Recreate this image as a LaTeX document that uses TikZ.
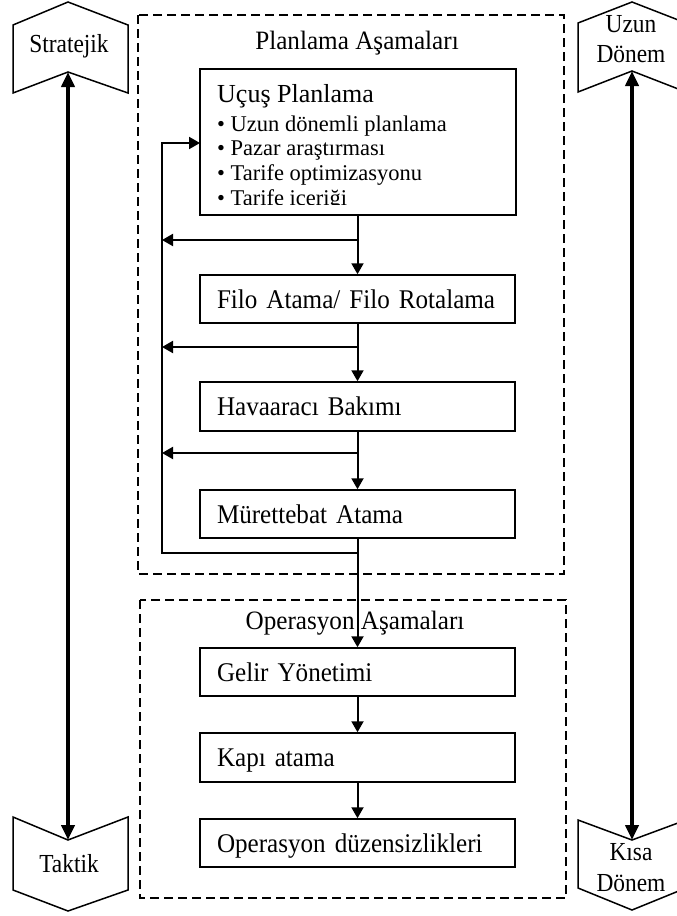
\documentclass[tikz,border=0pt]{standalone}
\usepackage{fontspec}
\setmainfont{Liberation Serif}
\newfontfamily\fboxtext{Liberation Serif}[FakeStretch=0.93]
\newfontfamily\fpen{Liberation Serif}[FakeStretch=0.9]
\newfontfamily\fttl{Liberation Serif}[FakeStretch=0.95]
\usetikzlibrary{arrows.meta}
\begin{document}
\begin{tikzpicture}[x=1pt,y=-1pt,
  box/.style={draw,line width=1.5pt,minimum width=315pt,text width=281pt,inner xsep=17pt,inner ysep=0pt,
    align=left,font=\fboxtext\fontsize{27}{30}\selectfont,text height=19.5pt,text depth=1.5pt},
  arr/.style={line width=2pt,-{Triangle[length=11pt,width=12pt]}},
  bigarr/.style={line width=4pt,{Triangle[length=15pt,width=13pt]}-{Triangle[length=15pt,width=13pt]}},
  dashbox/.style={line width=1.5pt,dash pattern=on 9pt off 5pt},
  penta/.style={line width=1.5pt,line join=miter},
  ptext/.style={font=\fpen\fontsize{26}{28}\selectfont,anchor=base,inner sep=0pt},
  ttl/.style={font=\fttl\fontsize{26.5}{30}\selectfont,anchor=base,inner sep=0pt},
  blt/.style={font=\fontsize{22.5}{24}\selectfont,anchor=base west,inner sep=0pt}]
\useasboundingbox (0,0) rectangle (677,916);

% dashed groups
\draw[dashbox] (138,15) rectangle (564,574);
\draw[dashbox] (140,600) rectangle (566,898);
\node[ttl] (plan) at (357,49) {Planlama Aşamaları};
\node[ttl] (oper) at (355,629) {Operasyon Aşamaları};

% Uçuş Planlama box
\node[draw,line width=1.5pt,minimum width=316pt,minimum height=146pt,inner sep=0pt] (ucus) at (358,142) {};
\node[ttl,anchor=base west,font=\fontsize{26}{30}\selectfont] (ucust) at (217,102) {Uçuş Planlama};
\begin{scope}
\clip (200,69) rectangle (515,204.5);
\node[blt] (b1) at (217,131) {• Uzun dönemli planlama};
\node[blt] (b2) at (217,155) {• Pazar araştırması};
\node[blt] (b3) at (217,180) {• Tarife optimizasyonu};
\node[blt] (b4) at (217,205.5) {• Tarife içeriği};
\end{scope}

% other boxes
\node[box,minimum height=48pt] (filo) at (357.5,299) {Filo Atama/ Filo Rotalama};
\node[box,minimum height=49pt] (hava) at (357.5,406.5) {Havaaracı Bakımı};
\node[box,minimum height=48pt] (muret) at (357.5,514) {Mürettebat Atama};
\node[box,minimum height=48pt] (gelir) at (357.5,672) {Gelir Yönetimi};
\node[box,minimum height=49pt] (kapi) at (357.5,757.5) {Kapı atama};
\node[box,minimum height=48pt] (opdz) at (357.5,843) {Operasyon düzensizlikleri};

% main flow
\draw[arr] (filo.north |- ucus.south) -- (filo.north);
\draw[arr] (filo.south) -- (hava.north);
\draw[arr] (hava.south) -- (muret.north);
\draw[arr] (muret.south) -- (gelir.north);
\draw[arr] (gelir.south) -- (kapi.north);
\draw[arr] (kapi.south) -- (opdz.north);

% feedback branches
\coordinate (j1) at (357.5,240); \coordinate (l1) at (162,240);
\coordinate (j2) at (357.5,347); \coordinate (l2) at (162,347);
\coordinate (j3) at (357.5,453); \coordinate (l3) at (162,453);
\draw[arr] (j1) -- (l1);
\draw[arr] (j2) -- (l2);
\draw[arr] (j3) -- (l3);
\coordinate (loopR) at (357.5,553); \coordinate (loopL) at (162,553);
\coordinate (loopT) at (162,143); \coordinate (ucin) at (200,143);
\draw[arr,line join=miter] (loopR) -- (loopL) -- (loopT) -- (ucin);

% left pentagons
\draw[penta] (13,25) -- (68,2) -- (128,25) -- (128,93) -- (68,72) -- (13,93) -- cycle;
\draw[penta] (13,817) -- (68,840) -- (128,817) -- (128,890) -- (68,911) -- (13,890) -- cycle;
\node[ptext] (strat) at (69,52) {Stratejik};
\node[ptext] (takt) at (69,872) {Taktik};
\coordinate (sA) at (68,72); \coordinate (sB) at (68,840);
\draw[bigarr] (sA) -- (sB);

% right pentagons
\draw[penta] (578,23) -- (632,2) -- (686,23) -- (686,92) -- (632,71) -- (578,92) -- cycle;
\draw[penta] (578,820) -- (632,840) -- (686,820) -- (686,888) -- (632,910) -- (578,888) -- cycle;
\node[ptext] (uzun) at (631,32) {Uzun};
\node[ptext] (donem1) at (631,62) {Dönem};
\node[ptext] (kisa) at (631,860) {Kısa};
\node[ptext] (donem2) at (631,891) {Dönem};
\coordinate (rA) at (632,71); \coordinate (rB) at (632,840);
\draw[bigarr] (rA) -- (rB);
\end{tikzpicture}
\end{document}
